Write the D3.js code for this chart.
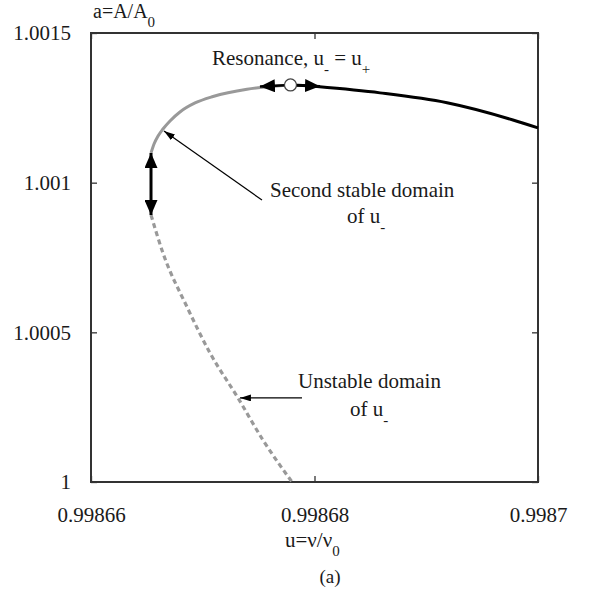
<!DOCTYPE html>
<html>
<head>
<meta charset="utf-8">
<script src="https://cdn.jsdelivr.net/npm/d3@7"></script>
<style>
  html, body { margin: 0; padding: 0; background: #fff; }
  svg { display: block; }
  text { font-family: "Liberation Serif", "Times New Roman", serif; fill: #1a1a1a; }
</style>
</head>
<body>
<svg id="chart" width="596" height="599"></svg>
<script>
// ---------- data ----------
const xTicks = [0.99866, 0.99868, 0.9987];
const xTickLabels = ["0.99866", "0.99868", "0.9987"];
const yTicks = [1, 1.0005, 1.001, 1.0015];
const yTickLabels = ["1", "1.0005", "1.001", "1.0015"];

// second stable domain of u- (gray solid)
const stableU = [0.99866537, 0.99866564, 0.998666, 0.99866644, 0.99866707, 0.99866796, 0.99866931, 0.99867092, 0.99867396, 0.99867539, 0.99867664, 0.99867785];
const stableA = [1.0010992, 1.0011293, 1.001156, 1.0011794, 1.0012062, 1.0012362, 1.0012663, 1.001288, 1.0013121, 1.0013187, 1.0013231, 1.0013264];

// u+ branch (black solid)
const plusU = [0.99867785, 0.99867897, 0.99868022, 0.99868586, 0.99869186, 0.99869776, 0.9987];
const plusA = [1.0013264, 1.001325, 1.001321, 1.0013, 1.001267, 1.0012095, 1.001183];

// unstable domain of u- (gray dashed)
const unstU = [0.99866537, 0.99866644, 0.99866859, 0.99867065, 0.99867315, 0.99867539, 0.99867799];
const unstA = [1.000892, 1.000765, 1.000585, 1.000431, 1.000281, 1.00014, 1.0];

// resonance point and jump arrows
const resonance = {u: 0.99867785, a: 1.0013264};
const resArrowTips = [{u: 0.99867512, a: 1.001321}, {u: 0.99868049, a: 1.001322}];
const jumpArrow = {u: 0.99866537, aTop: 1.0010992, aBottom: 1.000892};

// annotation arrows (from -> to)
const annoStable = {u0: 0.9986753, a0: 1.000942, u1: 0.99866653, a1: 1.0011727};
const annoUnstable = {u0: 0.99867888, a0: 1.000281, u1: 0.99867333, a1: 1.000281};

// ---------- layout ----------
const svg = d3.select("#chart");
const x = d3.scaleLinear().domain([0.99866, 0.9987]).range([91, 538]);
const y = d3.scaleLinear().domain([1, 1.0015]).range([482, 33]);
const FS = 21;

const defs = svg.append("defs");
function marker(id, len, wid) {
  defs.append("marker")
    .attr("id", id)
    .attr("viewBox", `0 0 ${len} ${wid}`)
    .attr("refX", len).attr("refY", wid / 2)
    .attr("markerWidth", len).attr("markerHeight", wid)
    .attr("markerUnits", "userSpaceOnUse")
    .attr("orient", "auto-start-reverse")
    .append("path")
    .attr("d", `M0,0L${len},${wid / 2}L0,${wid}Z`)
    .attr("fill", "#000");
}
marker("bigHead", 15, 13);
marker("smallHead", 11, 7);

// frame
svg.append("rect")
  .attr("x", x.range()[0]).attr("y", y.range()[1])
  .attr("width", x.range()[1] - x.range()[0])
  .attr("height", y.range()[0] - y.range()[1])
  .attr("fill", "none").attr("stroke", "#333").attr("stroke-width", 2);

// axes
const fmtX = d => xTickLabels[xTicks.indexOf(d)];
const fmtY = d => yTickLabels[yTicks.indexOf(d)];
const gx = svg.append("g").attr("transform", `translate(0,${y(1)})`)
  .call(d3.axisBottom(x).tickValues(xTicks).tickFormat(fmtX).tickSizeInner(-6).tickSizeOuter(0).tickPadding(25));
const gy = svg.append("g").attr("transform", `translate(${x(0.99866)},0)`)
  .call(d3.axisLeft(y).tickValues(yTicks).tickFormat(fmtY).tickSizeInner(-6).tickSizeOuter(0).tickPadding(20));
const gx2 = svg.append("g").attr("transform", `translate(0,${y(1.0015)})`)
  .call(d3.axisTop(x).tickValues(xTicks).tickFormat("").tickSizeInner(-6).tickSizeOuter(0));
const gy2 = svg.append("g").attr("transform", `translate(${x(0.9987)},0)`)
  .call(d3.axisRight(y).tickValues(yTicks).tickFormat("").tickSizeInner(-6).tickSizeOuter(0));
[gx, gy, gx2, gy2].forEach(g => {
  g.select(".domain").remove();
  g.selectAll(".tick line").attr("stroke", "#333").attr("stroke-width", 1.3);
  g.selectAll(".tick text").attr("font-size", FS).attr("fill", "#1a1a1a")
    .style("font-family", '"Liberation Serif", "Times New Roman", serif');
});

// curves
const line = d3.line().x(d => x(d[0])).y(d => y(d[1])).curve(d3.curveMonotoneX);
const zip = (a, b) => a.map((v, i) => [v, b[i]]);

svg.append("path").datum(zip(unstU, unstA)).attr("d", line)
  .attr("fill", "none").attr("stroke", "#999").attr("stroke-width", 3.2)
  .attr("stroke-dasharray", "5,3.5");
svg.append("path").datum(zip(stableU, stableA)).attr("d", line)
  .attr("fill", "none").attr("stroke", "#999").attr("stroke-width", 3);
svg.append("path").datum(zip(plusU, plusA)).attr("d", line)
  .attr("fill", "none").attr("stroke", "#000").attr("stroke-width", 3);

// resonance arrows
resArrowTips.forEach(t => {
  svg.append("line")
    .attr("x1", x(resonance.u)).attr("y1", y(resonance.a))
    .attr("x2", x(t.u)).attr("y2", y(t.a))
    .attr("stroke", "#000").attr("stroke-width", 2.5)
    .attr("marker-end", "url(#bigHead)");
});
svg.append("circle")
  .attr("cx", x(resonance.u)).attr("cy", y(resonance.a)).attr("r", 6)
  .attr("fill", "#fff").attr("stroke", "#444").attr("stroke-width", 1.2);

// jump double arrow
svg.append("line")
  .attr("x1", x(jumpArrow.u)).attr("y1", y(jumpArrow.aBottom))
  .attr("x2", x(jumpArrow.u)).attr("y2", y(jumpArrow.aTop))
  .attr("stroke", "#000").attr("stroke-width", 3)
  .attr("marker-start", "url(#bigHead)").attr("marker-end", "url(#bigHead)");

// annotation arrows
[annoStable, annoUnstable].forEach(a => {
  svg.append("line")
    .attr("x1", x(a.u0)).attr("y1", y(a.a0))
    .attr("x2", x(a.u1)).attr("y2", y(a.a1))
    .attr("stroke", "#000").attr("stroke-width", 1.2)
    .attr("marker-end", "url(#smallHead)");
});

// text helper with subscripts
function label(xp, yp, parts, anchor, fs) {
  const t = svg.append("text").attr("x", xp).attr("y", yp).attr("font-size", fs || FS)
    .attr("text-anchor", anchor || "start");
  let cur = 0;
  parts.forEach(p => {
    const s = t.append("tspan").text(p.t);
    const target = p.sub ? 9 : 0;
    s.attr("dy", target - cur);
    cur = target;
    if (p.sub) s.attr("font-size", 15);
  });
  return t;
}

label(212, 65, [{t: "Resonance, u"}, {t: "-", sub: true}, {t: " = u"}, {t: "+", sub: true}]);
label(270, 197, [{t: "Second stable domain"}]);
label(347, 223, [{t: "of u"}, {t: "-", sub: true}]);
label(298, 388, [{t: "Unstable domain"}]);
label(350, 416, [{t: "of u"}, {t: "-", sub: true}]);
label(93, 18, [{t: "a=A/A"}, {t: "0", sub: true}], "start", 20);
label(285, 547, [{t: "u=\u03bd/\u03bd"}, {t: "0", sub: true}]);
label(330, 583, [{t: "(a)"}], "middle", 19);
</script>
</body>
</html>
